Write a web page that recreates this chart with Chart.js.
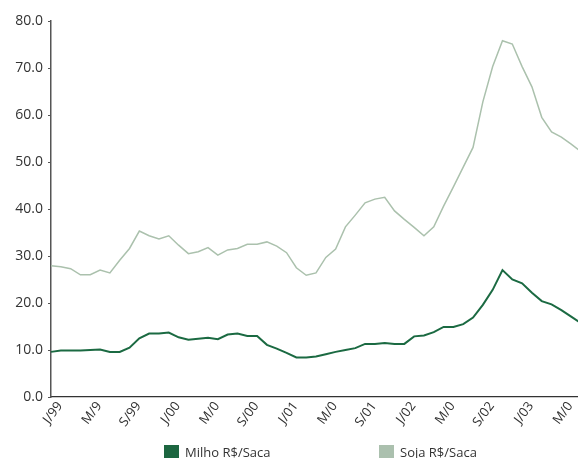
<!DOCTYPE html>
<html>
<head>
<meta charset="utf-8">
<script src="https://cdn.jsdelivr.net/npm/chart.js@4/dist/chart.umd.min.js"></script>
<style>
  html, body { margin: 0; padding: 0; background: #fff; overflow: hidden; }
  /* plot runs a few pixels past the right edge of the page */
  #wrap { width: 581px; height: 458px; position: relative; }
</style>
</head>
<body>
<div id="wrap"><canvas id="precos"></canvas></div>
<script>
// Monthly prices, jan/99 - jul/03 (R$ per saca)
const meses = [
  'jan/99','fev/99','mar/99','abr/99','mai/99','jun/99','jul/99','ago/99','set/99','out/99','nov/99','dez/99',
  'jan/00','fev/00','mar/00','abr/00','mai/00','jun/00','jul/00','ago/00','set/00','out/00','nov/00','dez/00',
  'jan/01','fev/01','mar/01','abr/01','mai/01','jun/01','jul/01','ago/01','set/01','out/01','nov/01','dez/01',
  'jan/02','fev/02','mar/02','abr/02','mai/02','jun/02','jul/02','ago/02','set/02','out/02','nov/02','dez/02',
  'jan/03','fev/03','mar/03','abr/03','mai/03','jun/03','jul/03'
];

const milho = [
  9.6, 9.9, 9.9, 9.9, 10.0, 10.1, 9.6, 9.6, 10.5, 12.5, 13.5, 13.5,
  13.7, 12.7, 12.2, 12.4, 12.6, 12.3, 13.3, 13.5, 13.0, 13.0, 11.1, 10.3,
  9.4, 8.4, 8.4, 8.6, 9.1, 9.6, 10.0, 10.4, 11.3, 11.3, 11.5, 11.3,
  11.3, 12.9, 13.1, 13.8, 14.9, 14.9, 15.5, 16.9, 19.6, 22.8, 27.0, 25.0,
  24.2, 22.2, 20.4, 19.7, 18.5, 17.1, 15.7
];

const soja = [
  27.9, 27.7, 27.3, 26.0, 26.0, 27.0, 26.4, 29.1, 31.6, 35.3, 34.3, 33.6,
  34.3, 32.3, 30.5, 30.9, 31.8, 30.2, 31.3, 31.6, 32.5, 32.5, 33.0, 32.1,
  30.7, 27.5, 25.9, 26.4, 29.7, 31.5, 36.2, 38.7, 41.3, 42.1, 42.5, 39.6,
  37.8, 36.1, 34.3, 36.2, 40.6, 44.7, 48.9, 53.1, 62.8, 70.3, 75.8, 75.1,
  70.3, 66.0, 59.5, 56.4, 55.3, 53.8, 52.2
];

// one label every 4 months
const rotulosX = ['J/99','M/9','S/99','J/00','M/0','S/00','J/01','M/0','S/01','J/02','M/0','S/02','J/03','M/0'];

const fonte = '"Open Sans", "Noto Sans", sans-serif';

// legend drawn under the axis, boxes at fixed spots
const legendaX = [164, 379];
const legendaInferior = {
  id: 'legendaInferior',
  afterDraw(chart) {
    const ctx = chart.ctx;
    ctx.save();
    chart.data.datasets.forEach((ds, i) => {
      const x = legendaX[i];
      ctx.fillStyle = ds.legendColor;
      ctx.fillRect(x, 445, 15, 14);
      ctx.fillStyle = '#333';
      ctx.font = '13px ' + fonte;
      ctx.textBaseline = 'alphabetic';
      ctx.fillText(ds.label, x + 21, 457);
    });
    ctx.restore();
  }
};

new Chart(document.getElementById('precos'), {
  type: 'line',
  data: {
    labels: meses,
    datasets: [
      { label: 'Milho R$/Saca', data: milho, borderColor: '#1b6a42', legendColor: '#1c6640', borderWidth: 2, pointRadius: 0, tension: 0 },
      { label: 'Soja R$/Saca', data: soja, borderColor: '#abc1ad', legendColor: '#abc0ae', borderWidth: 1.5, pointRadius: 0, tension: 0 }
    ]
  },
  options: {
    responsive: true,
    maintainAspectRatio: false,
    animation: false,
    layout: { padding: { top: 21, right: 0, bottom: 26, left: 0 } },
    plugins: { legend: { display: false }, tooltip: { enabled: false } },
    scales: {
      x: {
        type: 'category',
        offset: false,
        grid: { display: false, drawTicks: false },
        border: { display: true, color: '#333', width: 1.2 },
        ticks: {
          autoSkip: false,
          minRotation: 53,
          maxRotation: 53,
          padding: 2,
          labelOffset: 9,
          color: '#333',
          font: { family: fonte, size: 13 },
          callback: (v, i) => (i % 4 === 0 ? rotulosX[i / 4] : null)
        },
        afterFit: (s) => { s.height = 35; s.paddingRight = 0; s.paddingLeft = 0; }
      },
      y: {
        min: 0,
        max: 80,
        grid: { drawOnChartArea: false, drawTicks: true, tickLength: 3, color: '#555' },
        border: { display: true, color: '#555', width: 1.5 },
        ticks: {
          stepSize: 10,
          padding: 5,
          color: '#333',
          font: { family: fonte, size: 14 },
          callback: (v) => v.toFixed(1)
        },
        afterFit: (s) => { s.width = 51; }
      }
    }
  },
  plugins: [legendaInferior]
});
</script>
</body>
</html>
